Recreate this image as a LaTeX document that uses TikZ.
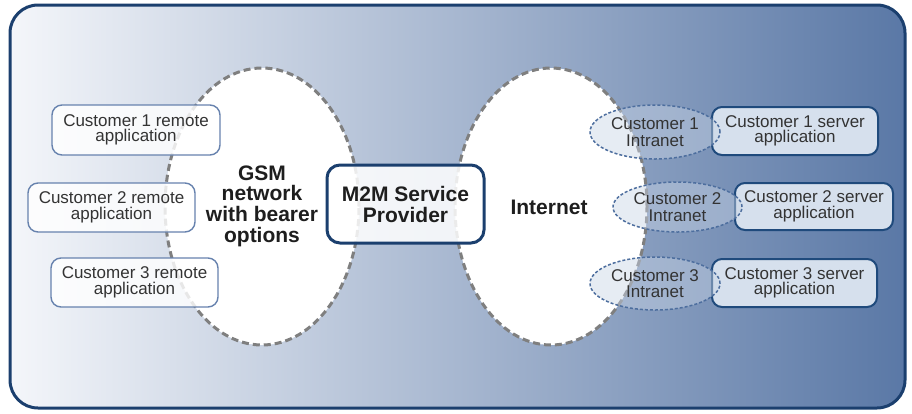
\documentclass[tikz,border=0pt]{standalone}
\usepackage{fontspec}
\setmainfont{Liberation Sans}
\usetikzlibrary{shapes.geometric}
\definecolor{navy}{HTML}{1B3F6E}
\definecolor{bgL}{HTML}{F4F6FA}
\definecolor{bgM}{HTML}{AEBDD3}
\definecolor{bgR}{HTML}{5A78A6}
\definecolor{dashgray}{HTML}{7F7F7F}
\definecolor{remoteedge}{HTML}{6782AE}
\definecolor{serverfill}{HTML}{D6E0ED}
\definecolor{serveredge}{HTML}{1F4A7C}
\definecolor{intraedge}{HTML}{4D6E9E}
\definecolor{intrafill}{HTML}{C9D5E6}
\definecolor{txt}{HTML}{333333}
\definecolor{btxt}{HTML}{1E1E1E}
\tikzset{
  cloud/.style={ellipse, draw=dashgray, line width=3pt, dash pattern=on 7pt off 4pt, fill=white, inner sep=0pt},
  remotebox/.style={rectangle, rounded corners=10pt, draw=remoteedge, line width=1.4pt, fill=white, fill opacity=0.82, text opacity=1, text=txt, inner sep=0pt, align=center, font=\fontsize{17}{15.5}\selectfont},
  serverbox/.style={rectangle, rounded corners=10pt, draw=serveredge, line width=2pt, fill=serverfill, text=txt, inner sep=0pt, align=center, font=\fontsize{17}{15.5}\selectfont},
  intranet/.style={ellipse, draw=intraedge, line width=1.5pt, dash pattern=on 3pt off 2pt, fill=intrafill, fill opacity=0.45, text opacity=1, text=txt, inner sep=0pt, align=center, font=\fontsize{17}{16.5}\selectfont},
  m2mbox/.style={rectangle, rounded corners=13pt, draw=navy, line width=3pt, fill=white, fill opacity=0.85, text opacity=1, text=btxt, inner sep=0pt, align=center, font=\bfseries\fontsize{21}{21}\selectfont},
  boldlabel/.style={text=btxt, align=center, inner sep=0pt, font=\bfseries\fontsize{21}{20.7}\selectfont}
}
\begin{document}
\begin{tikzpicture}[x=1pt,y=-1pt]
\useasboundingbox (0,0) rectangle (912,413);
\shade[left color=bgL, middle color=bgM, right color=bgR, rounded corners=28pt] (10,5) rectangle (905,408);
\draw[navy, line width=3pt, rounded corners=28pt] (10,5) rectangle (905,408);

\node[cloud, minimum width=194pt, minimum height=277pt] (gsm) at (262,206.5) {};
\node[cloud, minimum width=192pt, minimum height=277pt] (inet) at (551,206.5) {};

\node[boldlabel] (gsmlabel) at (262,206) {GSM\\network\\with bearer\\options};
\node[boldlabel] (inetlabel) at (549,207) {Internet};

\node[remotebox, minimum width=168pt, minimum height=50pt] (r1) at (136,130) {Customer 1 remote\\application};
\node[remotebox, minimum width=167pt, minimum height=49pt] (r2) at (111.5,207.5) {Customer 2 remote\\application};
\node[remotebox, minimum width=167pt, minimum height=49pt] (r3) at (134.5,282.5) {Customer 3 remote\\application};

\node[m2mbox, minimum width=157pt, minimum height=78pt] (m2m) at (405.5,204) {M2M Service\\Provider};

\node[serverbox, minimum width=166pt, minimum height=48pt] (s1) at (795,131) {Customer 1 server\\application};
\node[serverbox, minimum width=158pt, minimum height=47pt] (s2) at (814,206.5) {Customer 2 server\\application};
\node[serverbox, minimum width=165pt, minimum height=48pt] (s3) at (794.5,283) {Customer 3 server\\application};

\node[intranet, minimum width=130pt, minimum height=54pt] (i1) at (655,132) {Customer 1\\Intranet};
\node[intranet, minimum width=129pt, minimum height=50pt] (i2) at (677.5,207) {Customer 2\\Intranet};
\node[intranet, minimum width=130pt, minimum height=53pt] (i3) at (655,283.5) {Customer 3\\Intranet};
\end{tikzpicture}
\end{document}
